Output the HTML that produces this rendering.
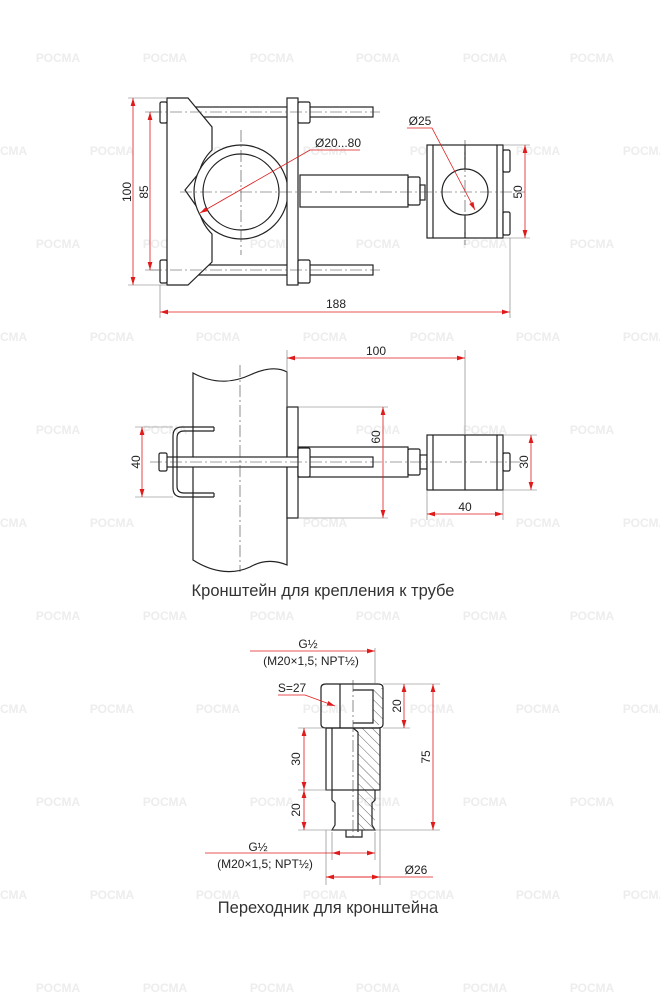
<!DOCTYPE html>
<html><head><meta charset="utf-8"><style>
html,body{margin:0;padding:0;background:#fff}
svg{display:block}
text{font-family:"Liberation Sans",sans-serif}
</style></head><body>
<svg width="660" height="1000" viewBox="0 0 660 1000" xmlns="http://www.w3.org/2000/svg">
<defs>
<marker id="a" viewBox="0 0 10 10" refX="10" refY="5" markerWidth="8" markerHeight="8" orient="auto-start-reverse" markerUnits="userSpaceOnUse"><path d="M0,2 L10,5 L0,8 z" fill="#e01b1b"/></marker>
<pattern id="h" width="7" height="7" patternUnits="userSpaceOnUse" patternTransform="rotate(-45)"><line x1="0" y1="0" x2="0" y2="7" stroke="#222" stroke-width="0.7"/></pattern>
</defs>
<!-- watermarks -->
<g fill="#ededed" font-weight="bold" font-size="12" text-anchor="middle">
<g id="wr1"><text x="58" y="62">РОСМА</text><text x="165" y="62">РОСМА</text><text x="272" y="62">РОСМА</text><text x="378" y="62">РОСМА</text><text x="485" y="62">РОСМА</text><text x="592" y="62">РОСМА</text></g>
<use href="#wr1" y="186"/><use href="#wr1" y="372"/><use href="#wr1" y="558"/><use href="#wr1" y="744"/><use href="#wr1" y="930"/>
<g id="wr2"><text x="5" y="155">РОСМА</text><text x="112" y="155">РОСМА</text><text x="218" y="155">РОСМА</text><text x="325" y="155">РОСМА</text><text x="432" y="155">РОСМА</text><text x="538" y="155">РОСМА</text><text x="645" y="155">РОСМА</text></g>
<use href="#wr2" y="186"/><use href="#wr2" y="372"/><use href="#wr2" y="558"/><use href="#wr2" y="744"/>
</g>

<g fill="none" stroke="#222" stroke-width="1.2">
<rect x="167" y="107" width="206" height="10" fill="#fff"/>
<rect x="167" y="265" width="206" height="10" fill="#fff"/>
<path d="M167,98 L188,98 L212,127 L212,150 A47,47 0 0 0 199,173 L185,190 L199,210 A47,47 0 0 0 212,234 L212,262 L188,285 L167,285 Z" fill="#fff"/>
<circle cx="241" cy="192" r="47" fill="#fff"/>
<circle cx="241" cy="192" r="38"/>
<rect x="287" y="98" width="11" height="187" fill="#fff"/>
<rect x="160" y="102" width="7" height="21" rx="1.5" fill="#fff"/>
<rect x="160" y="260" width="7" height="23" rx="1.5" fill="#fff"/>
<rect x="298" y="102" width="12" height="21" rx="1.5" fill="#fff"/>
<rect x="298" y="260" width="12" height="23" rx="1.5" fill="#fff"/>
<rect x="300" y="175" width="108" height="32" fill="#fff"/>
<rect x="408" y="177" width="12" height="28" rx="1.5" fill="#fff"/>
<rect x="420" y="185" width="5" height="15"/>
<rect x="427" y="145" width="76" height="93" fill="#fff"/>
<line x1="433" y1="145" x2="433" y2="238"/><line x1="497" y1="145" x2="497" y2="238"/><line x1="465" y1="145" x2="465" y2="238"/>
<circle cx="465" cy="192" r="23" fill="#fff"/>
<rect x="503" y="150" width="7" height="22" rx="1.5" fill="#fff"/>
<rect x="503" y="212" width="7" height="23" rx="1.5" fill="#fff"/>

<path d="M193,373 C215,385 235,382 250,375 C265,368 278,367 287,372 L287,565 C275,560 262,560 250,567 C235,574 215,574 193,560 Z" fill="#fff"/>
<rect x="287" y="407" width="11" height="111" fill="#fff"/>
<rect x="298" y="447" width="110" height="30" fill="#fff"/>
<rect x="160" y="457" width="213" height="10" fill="#fff"/>
<rect x="298" y="448" width="12" height="29" rx="1.5" fill="#fff"/>
<rect x="408" y="449" width="12" height="26" rx="1.5" fill="#fff"/>
<rect x="420" y="455" width="7" height="14"/>
<rect x="427" y="435" width="76" height="55" fill="#fff"/>
<line x1="433" y1="435" x2="433" y2="490"/><line x1="497" y1="435" x2="497" y2="490"/><line x1="465" y1="435" x2="465" y2="490"/>
<rect x="503" y="453" width="7" height="18" rx="1.5" fill="#fff"/>
<rect x="159" y="453" width="8" height="18" rx="1.5" fill="#fff"/>
<path d="M214,427 L182,427 Q173,427 173,436 L173,488 Q173,497 182,497 L214,497 M214,431 L184,431 Q177,431 177,438 L177,486 Q177,493 184,493 L214,493 M214,427 L214,431 M214,493 L214,497"/>

<rect x="373" y="688" width="10" height="37" fill="url(#h)" stroke="none"/>
<rect x="358" y="728" width="22" height="62" fill="url(#h)" stroke="none"/>
<rect x="358" y="790" width="17" height="40" fill="url(#h)" stroke="none"/>
<path d="M321,688 Q321,684 326,684 L378,684 Q383,684 383,688 L383,724 Q383,728 378,728 L326,728 Q321,728 321,724 Z"/>
<line x1="340" y1="684" x2="340" y2="728"/>
<path d="M353,690 L373,690 L373,723 L353,723"/>
<rect x="326" y="728" width="54" height="62"/>
<line x1="332" y1="728" x2="332" y2="790"/>
<path d="M358,732 L358,832 M353,728 L358,732"/>
<path d="M332,790 L332,800 L335,803 L335,825 L332,830 L375,830 L372,825 L372,803 L375,800 L375,790"/>
<path d="M346,830 L346,837 L362,837 L362,830"/>
</g>

<g stroke="#444" stroke-width="0.6" stroke-dasharray="12,3,2,3" fill="none">
<line x1="150" y1="112" x2="380" y2="112"/><line x1="150" y1="270" x2="380" y2="270"/>
<line x1="180" y1="192" x2="525" y2="192"/><line x1="241" y1="130" x2="241" y2="255"/>
<line x1="465" y1="140" x2="465" y2="245"/>
<line x1="240" y1="365" x2="240" y2="572"/><line x1="150" y1="462" x2="520" y2="462"/>
<line x1="353" y1="680" x2="353" y2="840"/>
</g>

<g stroke="#777" stroke-width="0.6" fill="none">
<line x1="128" y1="98" x2="167" y2="98"/><line x1="128" y1="285" x2="167" y2="285"/>
<line x1="145" y1="112" x2="160" y2="112"/><line x1="145" y1="270" x2="160" y2="270"/>
<line x1="503" y1="145" x2="530" y2="145"/><line x1="503" y1="238" x2="530" y2="238"/>
<line x1="160" y1="285" x2="160" y2="318"/><line x1="510" y1="238" x2="510" y2="318"/>
<line x1="287" y1="350" x2="287" y2="407"/><line x1="465" y1="350" x2="465" y2="435"/>
<line x1="298" y1="407" x2="388" y2="407"/><line x1="298" y1="518" x2="388" y2="518"/>
<line x1="135" y1="427" x2="173" y2="427"/><line x1="135" y1="497" x2="173" y2="497"/>
<line x1="503" y1="435" x2="537" y2="435"/><line x1="503" y1="490" x2="537" y2="490"/>
<line x1="427" y1="490" x2="427" y2="520"/><line x1="503" y1="490" x2="503" y2="520"/>
<line x1="375" y1="648" x2="375" y2="684"/>
<line x1="383" y1="684" x2="440" y2="684"/><line x1="383" y1="728" x2="410" y2="728"/>
<line x1="298" y1="728" x2="326" y2="728"/><line x1="298" y1="790" x2="332" y2="790"/>
<line x1="298" y1="830" x2="440" y2="830"/>
<line x1="326" y1="830" x2="326" y2="885"/><line x1="380" y1="790" x2="380" y2="885"/>
<line x1="332" y1="832" x2="332" y2="860"/><line x1="375" y1="832" x2="375" y2="860"/>
</g>

<g stroke="#e01b1b" stroke-width="0.8" fill="none">
<line x1="133" y1="98" x2="133" y2="285" marker-start="url(#a)" marker-end="url(#a)"/>
<line x1="150" y1="112" x2="150" y2="270" marker-start="url(#a)" marker-end="url(#a)"/>
<line x1="525" y1="145" x2="525" y2="238" marker-start="url(#a)" marker-end="url(#a)"/>
<line x1="160" y1="312" x2="510" y2="312" marker-start="url(#a)" marker-end="url(#a)"/>
<polyline points="360,150 310,150 200,213" marker-end="url(#a)"/>
<polyline points="407,128 432,128 475,210" marker-end="url(#a)"/>
<line x1="287" y1="358" x2="465" y2="358" marker-start="url(#a)" marker-end="url(#a)"/>
<line x1="383" y1="407" x2="383" y2="518" marker-start="url(#a)" marker-end="url(#a)"/>
<line x1="142" y1="427" x2="142" y2="497" marker-start="url(#a)" marker-end="url(#a)"/>
<line x1="531" y1="435" x2="531" y2="490" marker-start="url(#a)" marker-end="url(#a)"/>
<line x1="427" y1="514" x2="503" y2="514" marker-start="url(#a)" marker-end="url(#a)"/>
<line x1="250" y1="651" x2="375" y2="651" marker-end="url(#a)"/>
<polyline points="278,695 305,695 335,706" marker-end="url(#a)"/>
<line x1="404" y1="684" x2="404" y2="728" marker-start="url(#a)" marker-end="url(#a)"/>
<line x1="433" y1="684" x2="433" y2="830" marker-start="url(#a)" marker-end="url(#a)"/>
<line x1="304" y1="728" x2="304" y2="790" marker-start="url(#a)" marker-end="url(#a)"/>
<line x1="304" y1="790" x2="304" y2="830" marker-start="url(#a)" marker-end="url(#a)"/>
<line x1="205" y1="853" x2="332" y2="853"/>
<line x1="332" y1="853" x2="375" y2="853" marker-start="url(#a)" marker-end="url(#a)"/>
<line x1="326" y1="877" x2="433" y2="877"/>
<line x1="326" y1="877" x2="380" y2="877" marker-start="url(#a)" marker-end="url(#a)"/>
</g>

<g fill="#222" font-size="12" text-anchor="middle">
<text transform="translate(131,192) rotate(-90)">100</text>
<text transform="translate(148,192) rotate(-90)">85</text>
<text transform="translate(522,192) rotate(-90)">50</text>
<text x="336" y="308">188</text>
<text x="338" y="147">Ø20...80</text>
<text x="420" y="125">Ø25</text>
<text x="376" y="355">100</text>
<text transform="translate(380,437) rotate(-90)">60</text>
<text transform="translate(140,462) rotate(-90)">40</text>
<text transform="translate(528,462) rotate(-90)">30</text>
<text x="465" y="511">40</text>
<text x="308" y="648">G½</text>
<text x="311" y="665">(M20×1,5; NPT½)</text>
<text x="292" y="692">S=27</text>
<text transform="translate(401,706) rotate(-90)">20</text>
<text transform="translate(430,757) rotate(-90)">75</text>
<text transform="translate(300,759) rotate(-90)">30</text>
<text transform="translate(300,810) rotate(-90)">20</text>
<text x="258" y="851">G½</text>
<text x="265" y="868">(M20×1,5; NPT½)</text>
<text x="416" y="874">Ø26</text>
</g>
<g fill="#333" font-size="16.5" text-anchor="middle">
<text x="323" y="596">Кронштейн для крепления к трубе</text>
<text x="328" y="913">Переходник для кронштейна</text>
</g>
</svg>
</body></html>
